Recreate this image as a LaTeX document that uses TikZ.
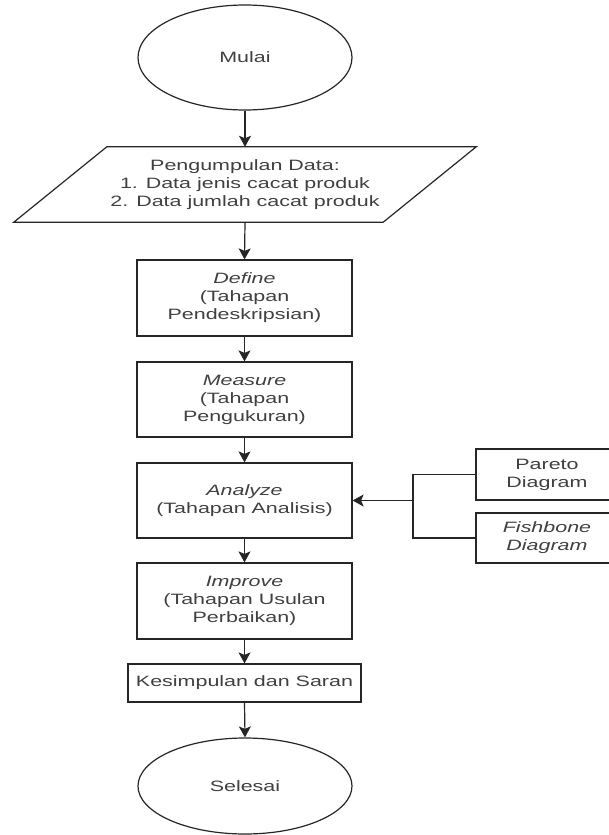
\documentclass[tikz,border=0pt]{standalone}
\usepackage{fontspec}
\setmainfont{Liberation Sans}[FakeStretch=1.43]
\usetikzlibrary{shapes.geometric,arrows.meta,calc}
\begin{document}
\begin{tikzpicture}[x=1pt,y=-1pt,
  every node/.style={font=\fontsize{15}{18}\selectfont, text=black!75, align=center, inner sep=0pt},
  proc/.style={draw=black!85, line width=1.2pt, rectangle, minimum width=215pt, minimum height=76pt},
  oval/.style={draw=black!85, line width=1.2pt, ellipse, minimum width=214pt},
  side/.style={draw=black!85, line width=1.2pt, rectangle, minimum width=142pt, minimum height=51pt},
  conn/.style={draw=black!85, line width=1.2pt},
  arr/.style={conn, -{Stealth[length=11pt,width=12pt,inset=2.5pt]}}]
\useasboundingbox[fill=white] (0,0) rectangle (608,835);
\node[oval, minimum height=105pt] (mulai) at (245,57.5) {Mulai};
\node[minimum width=276pt, minimum height=75pt] (data) at (245,184.5)
  {Pengumpulan Data:\\1. Data jenis cacat produk\\2. Data jumlah cacat produk};
\draw[conn] (data.north west) -- ($(data.north east)+(93,0)$) -- (data.south east)
  -- ($(data.south west)+(-93,0)$) -- cycle;
\node[proc] (define) at (244.5,298) {\textit{Define}\\(Tahapan\\Pendeskripsian)};
\node[proc, minimum height=75pt] (measure) at (244.5,399.5) {\textit{Measure}\\(Tahapan\\Pengukuran)};
\node[proc, minimum height=75pt] (analyze) at (244.5,500.5) {\textit{Analyze}\\(Tahapan Analisis)};
\node[proc] (improve) at (244.5,601) {\textit{Improve}\\(Tahapan Usulan\\Perbaikan)};
\node[proc, minimum width=233pt, minimum height=38pt] (kes) at (244.5,683) {Kesimpulan dan Saran};
\node[oval, minimum height=96pt] (selesai) at (245,786) {Selesai};
\node[side] (pareto) at (547,474.5) {Pareto\\Diagram};
\node[side, minimum height=50pt] (fish) at (547,538) {\textit{Fishbone}\\\textit{Diagram}};
\coordinate (j) at (413,500.5);
\draw[arr] (mulai.south) -- (data.north);
\draw[arr] (data.south) -- (define.north);
\draw[arr] (define.south) -- (measure.north);
\draw[arr] (measure.south) -- (analyze.north);
\draw[arr] (analyze.south) -- (improve.north);
\draw[arr] (improve.south) -- (kes.north);
\draw[arr] (kes.south) -- (selesai.north);
\draw[conn] (pareto.west) -| (j);
\draw[conn] (fish.west) -| (j);
\draw[arr] (j) -- (analyze.east);
\end{tikzpicture}
\end{document}
